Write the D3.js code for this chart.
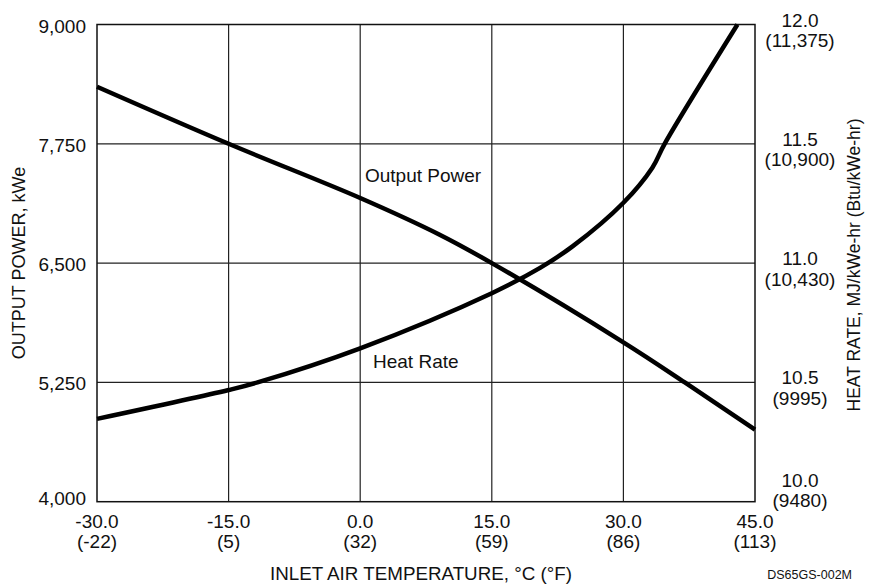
<!DOCTYPE html>
<html>
<head>
<meta charset="utf-8">
<script src="https://cdn.jsdelivr.net/npm/d3@7"></script>
<style>
  body { margin: 0; background: #fff; }
  text { font-family: "Liberation Sans", Arial, sans-serif; fill: #111; }
</style>
</head>
<body>
<svg id="chart" width="874" height="584"></svg>
<script>
// inlet air temperature, deg C
let xTicks = [-30, -15, 0, 15, 30, 45];
let xTicksF = ["(-22)", "(5)", "(32)", "(59)", "(86)", "(113)"];
let powerTicks = [4000, 5250, 6500, 7750, 9000];
let heatTicks = [10.0, 10.5, 11.0, 11.5, 12.0];
let heatTicksBtu = ["(9480)", "(9995)", "(10,430)", "(10,900)", "(11,375)"];

// output power, kWe
let powerTemp = [-30, -15, 0, 9, 15, 30, 37, 45];
let powerVal = [8348, 7750, 7182, 6800, 6500, 5670, 5250, 4755];

// heat rate, MJ/kWe-hr
let heatTemp = [-30, -15, -11.7, 0, 15, 20.5, 24.2, 30, 33.3, 34.7, 43];
let heatVal = [10.347, 10.468, 10.5, 10.643, 10.874, 10.98, 11.07, 11.253, 11.40, 11.5, 12.0];

let svg = d3.select("#chart");
let plotLeft = 97, plotRight = 755, plotTop = 24.5, plotBottom = 501.7;

let x = d3.scaleLinear().domain([-30, 45]).range([plotLeft, plotRight]);
let yP = d3.scaleLinear().domain([4000, 9000]).range([plotBottom, plotTop]);
let yH = d3.scaleLinear().domain([10, 12]).range([plotBottom, plotTop]);

// grid
svg.append("g").selectAll("line").data(xTicks.slice(1, -1)).join("line")
    .attr("x1", d => x(d)).attr("x2", d => x(d))
    .attr("y1", plotTop).attr("y2", plotBottom)
    .attr("stroke", "#222").attr("stroke-width", 1.2);
svg.append("g").selectAll("line").data(powerTicks.slice(1, -1)).join("line")
    .attr("x1", plotLeft).attr("x2", plotRight)
    .attr("y1", d => yP(d)).attr("y2", d => yP(d))
    .attr("stroke", "#222").attr("stroke-width", 1.2);

svg.append("rect")
    .attr("x", plotLeft).attr("y", plotTop)
    .attr("width", plotRight - plotLeft).attr("height", plotBottom - plotTop)
    .attr("fill", "none").attr("stroke", "#111").attr("stroke-width", 1.5);

// left ticks
svg.append("g").selectAll("text").data(powerTicks).join("text")
    .attr("x", 86)
    .attr("y", (d, i) => yP(d) + (i == 0 ? 3.5 : 8))
    .attr("text-anchor", "end")
    .style("font-size", "19px")
    .text(d => d3.format(",")(d));

// right ticks
let rt = svg.append("g").selectAll("g").data(heatTicks).join("g")
    .attr("transform", (d, i) => "translate(800," + (yH(d) + (i == 0 ? -15 : 2)) + ")");
rt.append("text").attr("text-anchor", "middle").style("font-size", "19px")
    .text(d => d.toFixed(1));
rt.append("text").attr("text-anchor", "middle").attr("y", 20.5).style("font-size", "19px")
    .text((d, i) => heatTicksBtu[i]);

// bottom ticks
let bt = svg.append("g").selectAll("g").data(xTicks).join("g")
    .attr("transform", d => "translate(" + x(d) + "," + (plotBottom + 26.5) + ")");
bt.append("text").attr("text-anchor", "middle").style("font-size", "19px")
    .text(d => d.toFixed(1));
bt.append("text").attr("text-anchor", "middle").attr("y", 19.5).style("font-size", "19px")
    .text((d, i) => xTicksF[i]);

// axis titles
svg.append("text")
    .attr("transform", "translate(25,263) rotate(-90)")
    .attr("text-anchor", "middle")
    .style("font-size", "18px")
    .text("OUTPUT POWER, kWe");
svg.append("text")
    .attr("transform", "translate(860,265) rotate(-90)")
    .attr("text-anchor", "middle")
    .style("font-size", "17.5px")
    .text("HEAT RATE, MJ/kWe-hr (Btu/kWe-hr)");
svg.append("text")
    .attr("x", 421).attr("y", 580)
    .attr("text-anchor", "middle")
    .style("font-size", "18.8px")
    .text("INLET AIR TEMPERATURE, °C (°F)");
svg.append("text")
    .attr("x", 852).attr("y", 579)
    .attr("text-anchor", "end")
    .style("font-size", "12.5px")
    .text("DS65GS-002M");

// curves
let powerLine = d3.line().x((d, i) => x(powerTemp[i])).y(d => yP(d)).curve(d3.curveCatmullRom.alpha(0.5));
let heatLine = d3.line().x((d, i) => x(heatTemp[i])).y(d => yH(d)).curve(d3.curveCatmullRom.alpha(0.5));

svg.append("path").attr("d", powerLine(powerVal))
    .attr("fill", "none").attr("stroke", "#000").attr("stroke-width", 4.5);
svg.append("path").attr("d", heatLine(heatVal))
    .attr("fill", "none").attr("stroke", "#000").attr("stroke-width", 4.5);

svg.append("text").attr("x", 365).attr("y", 182).style("font-size", "19px").text("Output Power");
svg.append("text").attr("x", 373).attr("y", 368).style("font-size", "19px").text("Heat Rate");
</script>
</body>
</html>
